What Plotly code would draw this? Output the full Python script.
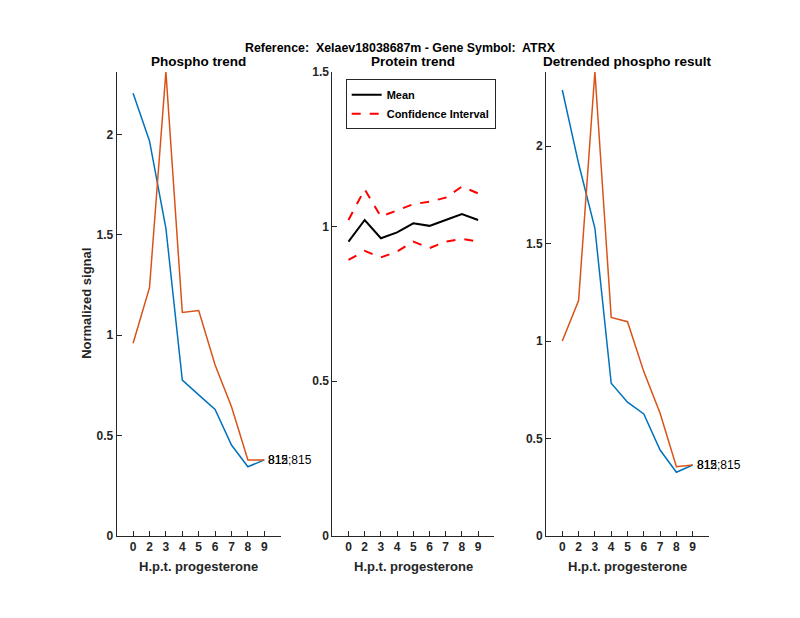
import plotly.graph_objects as go

# ---- data ----
time_labels = ["0", "2", "3", "4", "5", "6", "7", "8", "9"]
phospho_blue = [2.206, 1.968, 1.533, 0.777, 0.703, 0.631, 0.453, 0.345, 0.379]
phospho_orange = [0.960, 1.237, 2.313, 1.114, 1.123, 0.852, 0.644, 0.379, 0.379]
protein_mean = [0.951, 1.021, 0.962, 0.981, 1.010, 1.002, 1.021, 1.040, 1.021]
protein_upper = [1.021, 1.120, 1.032, 1.051, 1.072, 1.080, 1.093, 1.129, 1.107]
protein_lower = [0.892, 0.921, 0.900, 0.919, 0.951, 0.930, 0.951, 0.960, 0.951]
detr_blue = [2.287, 1.910, 1.578, 0.783, 0.686, 0.626, 0.441, 0.327, 0.364]
detr_orange = [1.000, 1.207, 2.381, 1.121, 1.099, 0.843, 0.629, 0.355, 0.364]
blue_label = "812;815"
orange_label = "815"

x_pos = list(range(1, len(time_labels) + 1))

BLUE = "#0072BD"
ORANGE = "#D95319"
AX = "#262626"
FONT = "Liberation Sans"
W, H, OFF = 800, 618, 8  # page body margin offset


def px(x):
    return (x - OFF) / W


def py(y):
    return 1 - (y - OFF) / H


fig = go.Figure()


def add_line(y, color, xa, ya, width=1.5, dash="solid", name=None, show=False, group=None):
    fig.add_trace(go.Scatter(x=x_pos, y=y, mode="lines", xaxis=xa, yaxis=ya,
                             line=dict(color=color, width=width, dash=dash),
                             name=name, showlegend=show, legendgroup=group))


add_line(phospho_blue, BLUE, "x", "y")
add_line(phospho_orange, ORANGE, "x", "y")
add_line(protein_mean, "black", "x2", "y2", width=2, name="Mean", show=True)
add_line(protein_upper, "#FF0000", "x2", "y2", width=2, dash="dash", name="Confidence Interval", show=True, group="ci")
add_line(protein_lower, "#FF0000", "x2", "y2", width=2, dash="dash", name="Confidence Interval", show=False, group="ci")
add_line(detr_blue, BLUE, "x3", "y3")
add_line(detr_orange, ORANGE, "x3", "y3")

ydom = [py(536), py(71.7)]
xdoms = [[px(116.7), px(280.7)], [px(332.3), px(494.3)], [px(546), px(709)]]
yranges = [[0, max(phospho_blue + phospho_orange)], [0, 1.5],
           [0, max(detr_blue + detr_orange)]]

tickfont = dict(family=FONT, size=12, color=AX, weight="bold")
common_x = dict(range=[0, len(time_labels) + 1], tickmode="array", tickvals=x_pos,
                ticktext=time_labels, ticks="inside", ticklen=5, tickcolor=AX,
                showline=True, linecolor=AX, linewidth=1, showgrid=False,
                zeroline=False, tickfont=tickfont, automargin=False)
common_y = dict(ticks="inside", ticklen=5, tickcolor=AX, showline=True, linecolor=AX,
                linewidth=1, showgrid=False, zeroline=False, tickfont=tickfont,
                tickvals=[0, 0.5, 1, 1.5, 2], ticktext=["0", "0.5", "1", "1.5", "2"],
                automargin=False)

layout = dict(width=W, height=H, template="none",
              margin=dict(l=0, r=0, t=0, b=0, pad=0, autoexpand=False),
              paper_bgcolor="white", plot_bgcolor="white",
              font=dict(family=FONT, color=AX))
for i in range(3):
    sx = "" if i == 0 else str(i + 1)
    layout["xaxis" + sx] = dict(common_x, domain=xdoms[i], anchor="y" + sx)
    layout["yaxis" + sx] = dict(common_y, domain=ydom, anchor="x" + sx, range=yranges[i])
fig.update_layout(**layout)

fig.update_layout(legend=dict(x=px(345.7), y=py(79.3), xanchor="left", yanchor="top",
                              bgcolor="white", bordercolor=AX, borderwidth=1,
                              font=dict(family=FONT, size=11, color="black", weight="bold"),
                              tracegroupgap=0, itemwidth=30))

# titles
fig.add_annotation(text="Reference:  Xelaev18038687m - Gene Symbol:  ATRX", xref="paper", yref="paper",
                   x=px(400.5), y=py(48), showarrow=False, xanchor="center", yanchor="middle",
                   font=dict(family=FONT, size=12.4, color="black", weight="bold"))
sub_titles = ["Phospho trend", "Protein trend", "Detrended phospho result"]
for i, t in enumerate(sub_titles):
    fig.add_annotation(text=t, xref="paper", yref="paper", x=sum(xdoms[i]) / 2, y=py(61),
                       showarrow=False, xanchor="center", yanchor="middle",
                       font=dict(family=FONT, size=13.5, color="black", weight="bold"))
    fig.add_annotation(text="H.p.t. progesterone", xref="paper", yref="paper",
                       x=sum(xdoms[i]) / 2, y=py(566), showarrow=False,
                       xanchor="center", yanchor="middle",
                       font=dict(family=FONT, size=13, color=AX, weight="bold"))
fig.add_annotation(text="Normalized signal", xref="paper", yref="paper", x=px(87),
                   y=sum(ydom) / 2, textangle=-90, showarrow=False, xanchor="center",
                   yanchor="middle", font=dict(family=FONT, size=13, color=AX, weight="bold"))

# end labels
for (xa, ya, yb, yo) in [("x", "y", phospho_blue, phospho_orange), ("x3", "y3", detr_blue, detr_orange)]:
    for lab, ys in [(blue_label, yb), (orange_label, yo)]:
        fig.add_annotation(text=lab, xref=xa, yref=ya, x=x_pos[-1], y=ys[-1], showarrow=False,
                           xanchor="left", yanchor="middle", xshift=2,
                           font=dict(family=FONT, size=12, color="black"))

fig.write_html("out.html")
